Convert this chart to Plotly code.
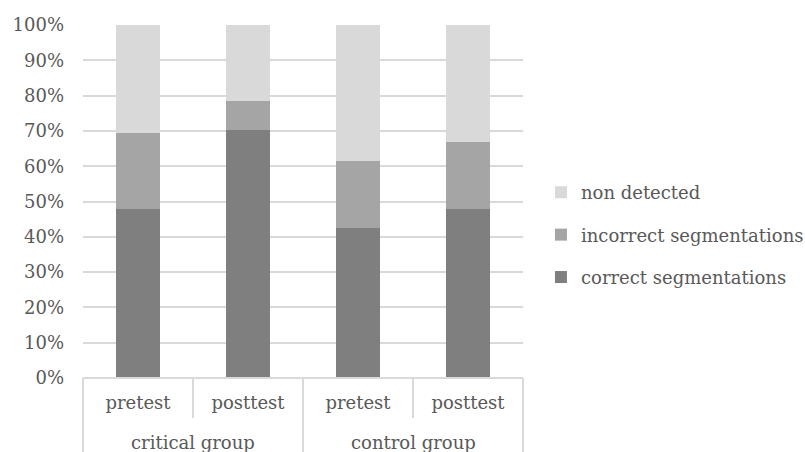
import plotly.graph_objects as go

# Stacked shares (percent) per group and test
groups = ["critical group", "critical group", "control group", "control group"]
tests = ["pretest", "posttest", "pretest", "posttest"]
correct = [48.0, 70.3, 42.6, 48.0]
incorrect = [21.4, 8.2, 19.0, 18.8]
non_detected = [30.6, 21.5, 38.4, 33.2]

series = [
    ("correct segmentations", correct, "#7f7f7f"),
    ("incorrect segmentations", incorrect, "#a5a5a5"),
    ("non detected", non_detected, "#d9d9d9"),
]

FONT = "DejaVu Serif"
FS = 18
TXT = "#595959"
AXIS = "#d9d9d9"

# one unique category per bar; the test name is shown as the tick label
cats = [f"{g} | {t}" for g, t in zip(groups, tests)]

fig = go.Figure()
for i, (name, vals, col) in enumerate(series):
    fig.add_trace(go.Bar(
        x=cats, y=vals, name=name,
        marker=dict(color=col, line=dict(width=0)),
        legendgroup=str(i), legendrank=len(series) - i,
    ))

# Category boundary lines below the axis (Excel-style grouped labels)
n = len(tests)
for k in range(n + 1):
    frac = k / n
    outer = k % 2 == 0
    fig.add_shape(type="line", xref="paper", yref="paper",
                  x0=frac, x1=frac, y0=0, y1=-0.25 if outer else -0.113,
                  line=dict(color=AXIS, width=2))
fig.add_shape(type="line", xref="paper", yref="paper",
              x0=0, x1=1, y0=0, y1=0, line=dict(color=AXIS, width=2))

# Group labels centred under each pair of bars
seen = []
for g in groups:
    if g not in seen:
        seen.append(g)
for j, g in enumerate(seen):
    members = [k for k, gg in enumerate(groups) if gg == g]
    centre = (min(members) + max(members) + 1) / 2 / n
    fig.add_annotation(text=g, xref="paper", yref="paper", x=centre, y=-0.184,
                       xanchor="center", yanchor="middle", showarrow=False,
                       font=dict(family=FONT, size=FS, color=TXT))

fig.update_layout(
    width=805, height=452,
    margin=dict(l=83, r=282, t=25, b=74, autoexpand=False),
    paper_bgcolor="white", plot_bgcolor="white",
    barmode="stack", bargap=0.6,
    font=dict(family=FONT, size=FS, color=TXT),
    showlegend=True,
    legend=dict(xref="container", yref="container", x=0.672, y=0.48,
                xanchor="left", yanchor="middle",
                traceorder="grouped", tracegroupgap=16,
                font=dict(family=FONT, size=FS, color=TXT)),
    xaxis=dict(type="category", showgrid=False, showline=False, ticks="",
               tickvals=cats, ticktext=tests, ticklabelstandoff=12,
               tickfont=dict(size=FS, color=TXT)),
    yaxis=dict(range=[0, 100], dtick=10, ticksuffix="%", showgrid=True,
               gridcolor=AXIS, gridwidth=2, zeroline=False, showline=False,
               ticks="", ticklabelstandoff=18,
               tickfont=dict(size=FS, color=TXT)),
)

fig.write_html("out.html")
